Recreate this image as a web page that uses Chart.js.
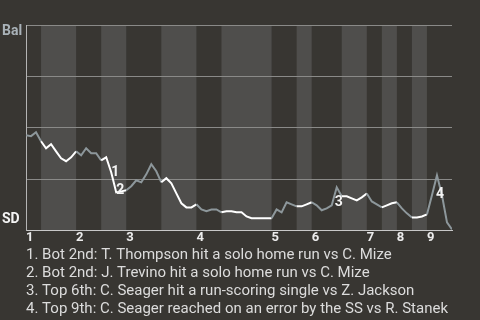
<!DOCTYPE html>
<html>
<head>
<meta charset="utf-8">
<script src="https://cdn.jsdelivr.net/npm/chart.js@4.4.0/dist/chart.umd.min.js"></script>
<style>
  html, body { margin: 0; padding: 0; background: #383632; }
  #wrap { width: 480px; height: 320px; }
</style>
</head>
<body>
<div id="wrap"><canvas id="wp"></canvas></div>
<script>
// Bal win probability (%) after each plate appearance
const winProb = [
  46.3, 45.9, 47.8, 43.4, 40.0, 42.0, 38.5, 35.1, 33.7, 35.6,
  38.5, 36.6, 40.0, 37.6, 37.6, 34.1, 35.6, 28.3, 18.5, 19.0,
  19.5, 21.5, 24.4, 23.4, 27.3, 32.2, 28.8, 23.4, 25.4, 22.9,
  18.0, 13.2, 11.2, 11.2, 12.7, 10.2, 9.3, 10.2, 10.2, 8.8,
  9.3, 9.3, 8.8, 8.8, 6.8, 5.9, 5.9, 5.9, 5.9, 5.9,
  10.2, 8.8, 13.7, 12.7, 11.7, 11.7, 12.7, 13.7, 12.2, 9.8,
  10.7, 12.2, 21.0, 16.6, 16.6, 15.6, 14.6, 16.1, 18.0, 14.1,
  12.7, 11.2, 12.2, 13.2, 13.7, 10.7, 8.3, 6.3, 6.3, 6.8,
  7.8, 17.1, 26.8, 17.1, 3.9, 0.5
];
const lastPlay = 85;
// play index where each inning starts, and where each bottom half starts/ends
const inningStarts = [0, 10, 20, 34, 49, 57, 68, 74, 80];
const inningLabels = ['1', '2', '3', '4', '5', '6', '7', '8', '9'];
const bottomHalves = [[3, 10], [15, 20], [27, 34], [39, 49], [54, 57], [63, 68], [71, 74], [77, 80]];
// key plays
const eventPlays = [17, 18, 62, 82];
const eventLabels = ['1', '2', '3', '4'];
const eventNotes = [
  '1. Bot 2nd: T. Thompson hit a solo home run vs C. Mize',
  '2. Bot 2nd: J. Trevino hit a solo home run vs C. Mize',
  '3. Top 6th: C. Seager hit a run-scoring single vs Z. Jackson',
  '4. Top 9th: C. Seager reached on an error by the SS vs R. Stanek'
];

function inBottom(x) {
  return bottomHalves.some(([a, b]) => x >= a && x < b);
}

const bands = {
  id: 'bands',
  beforeDraw(chart) {
    const {ctx, chartArea: area, scales: {x}} = chart;
    ctx.save();
    ctx.fillStyle = '#383632';
    ctx.fillRect(0, 0, chart.width, chart.height);
    ctx.fillStyle = '#4f4e4c';
    bottomHalves.forEach(([a, b]) => {
      const x0 = x.getPixelForValue(a), x1 = x.getPixelForValue(b);
      ctx.fillRect(x0, area.top, x1 - x0, area.bottom - area.top);
    });
    ctx.restore();
  }
};

// label offsets so the numbers sit beside the line like in the original
const markOffsets = [[4, 0], [4, -2], [2, 15], [3, 19]];

const marks = {
  id: 'marks',
  afterDatasetsDraw(chart) {
    const {ctx, chartArea: area} = chart;
    const pts = chart.getDatasetMeta(0).data;
    ctx.save();
    ctx.font = 'bold 14px Roboto';
    ctx.textAlign = 'center';
    ctx.textBaseline = 'middle';
    ctx.fillStyle = '#f4f4f4';
    eventPlays.forEach((p, i) => {
      const pt = pts[p];
      ctx.fillText(eventLabels[i], pt.x + markOffsets[i][0], pt.y + markOffsets[i][1]);
    });
    ctx.textAlign = 'left';
    ctx.fillStyle = '#a9b2b8';
    ctx.fillText('Bal', 2, area.top + 6);
    ctx.fillStyle = '#f4f4f4';
    ctx.fillText('SD', 2, area.bottom - 11);
    ctx.restore();
  }
};

new Chart(document.getElementById('wp'), {
  type: 'line',
  data: {
    datasets: [{
      data: winProb.map((v, i) => ({x: i, y: v})),
      borderWidth: 2,
      pointRadius: 0,
      tension: 0,
      borderColor: '#8d979b',
      segment: {
        borderColor: c => inBottom(c.p0.parsed.x) ? '#ffffff' : '#8d979b'
      }
    }]
  },
  options: {
    responsive: true,
    maintainAspectRatio: false,
    animation: false,
    layout: {padding: {left: 26, right: 28, top: 25, bottom: 2}},
    plugins: {
      legend: {display: false},
      tooltip: {enabled: false},
      title: {
        display: true,
        position: 'bottom',
        align: 'start',
        text: eventNotes,
        color: '#dcdcdc',
        font: {family: 'Roboto', size: 15, weight: 'normal', lineHeight: 1.2},
        padding: {top: 0, bottom: 0}
      }
    },
    scales: {
      x: {
        type: 'linear',
        min: 0,
        max: lastPlay,
        afterBuildTicks: axis => { axis.ticks = inningStarts.map(v => ({value: v})); },
        grid: {display: false, drawTicks: false},
        border: {color: '#c8c8c8', width: 1},
        ticks: {
          autoSkip: false,
          maxRotation: 0,
          align: 'start',
          padding: 0,
          color: '#ececec',
          font: {family: 'Roboto', size: 13, weight: 'bold'},
          callback: (v, i) => inningLabels[i]
        }
      },
      y: {
        min: 0,
        max: 100,
        ticks: {display: false, stepSize: 25},
        grid: {color: '#8a8a88', lineWidth: 1, drawTicks: false},
        border: {color: '#b4b4b4', width: 1}
      }
    }
  },
  plugins: [bands, marks]
});
</script>
</body>
</html>
